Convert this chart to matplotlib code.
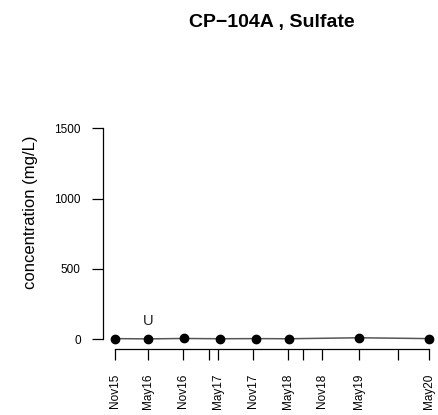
import numpy as np
import pandas as pd
import matplotlib.pyplot as plt
import matplotlib.dates as mdates

plt.rcParams['font.family'] = ['Liberation Sans', 'DejaVu Sans']

# sulfate results, mg/L
sample_dates = ['2015-11-15', '2016-05-08', '2016-11-09', '2017-05-18',
                '2017-11-20', '2018-05-12', '2019-05-17', '2020-05-15']
sulfate = [5, 3, 6, 4, 5, 4, 11, 5]
flags = ['', 'U', '', '', '', '', '', '']

tick_dates = ['2015-11-15', '2016-05-08', '2016-11-07', '2017-03-21',
              '2017-05-08', '2017-11-05', '2018-05-10', '2018-07-29',
              '2018-11-01', '2019-05-17', '2019-12-05', '2020-05-15']
tick_labels = ['Nov15', 'May16', 'Nov16', '', 'May17', 'Nov17', 'May18', '',
               'Nov18', 'May19', '', 'May20']

x = mdates.date2num(pd.to_datetime(sample_dates))
xt = mdates.date2num(pd.to_datetime(tick_dates))

W, H = 439, 415
fig = plt.figure(figsize=(W / 100, H / 100), dpi=100)
ax = fig.add_axes([103 / W, (H - 349.3) / H, (W - 103) / W, 229.4 / H])

ax.plot(x, sulfate, '-', color='#555555', lw=1.1, zorder=2)
ax.plot(x, sulfate, 'o', color='black', ms=6, zorder=3)
for xi, yi, f in zip(x, sulfate, flags):
    if f:
        ax.annotate(f, (xi, yi), xytext=(0, 12.6), textcoords='offset points',
                    ha='center', va='center', fontsize=10.5, color='#222222')

ax.set_xlim(xt[0] - 63, xt[0] + 1697)
ax.set_ylim(-71, 1560)

ax.set_xticks(xt)
ax.set_xticklabels(tick_labels, rotation=90, fontsize=8.5)
ax.set_yticks([0, 500, 1000, 1500])
ax.set_yticklabels(['0', '500', '1000', '1500'], fontsize=8.5)

for s in ['top', 'right']:
    ax.spines[s].set_visible(False)
ax.spines['left'].set_bounds(0, 1500)
ax.spines['bottom'].set_bounds(xt[0], xt[-1])
for s in ['left', 'bottom']:
    ax.spines[s].set_linewidth(0.9)
ax.tick_params(axis='both', length=8, width=0.9, direction='out')
ax.tick_params(axis='x', pad=9.5)
ax.tick_params(axis='y', pad=8)
ax.patch.set_visible(False)

fig.text(30.5 / W, 1 - 212.5 / H, 'concentration (mg/L)', rotation=90,
         ha='center', va='center', fontsize=12)
fig.text(271.7 / W, 1 - 22.5 / H, 'CP\u2212104A , Sulfate', ha='center',
         va='center', fontsize=14, fontweight='bold')

fig.savefig('out.png', dpi=100)
